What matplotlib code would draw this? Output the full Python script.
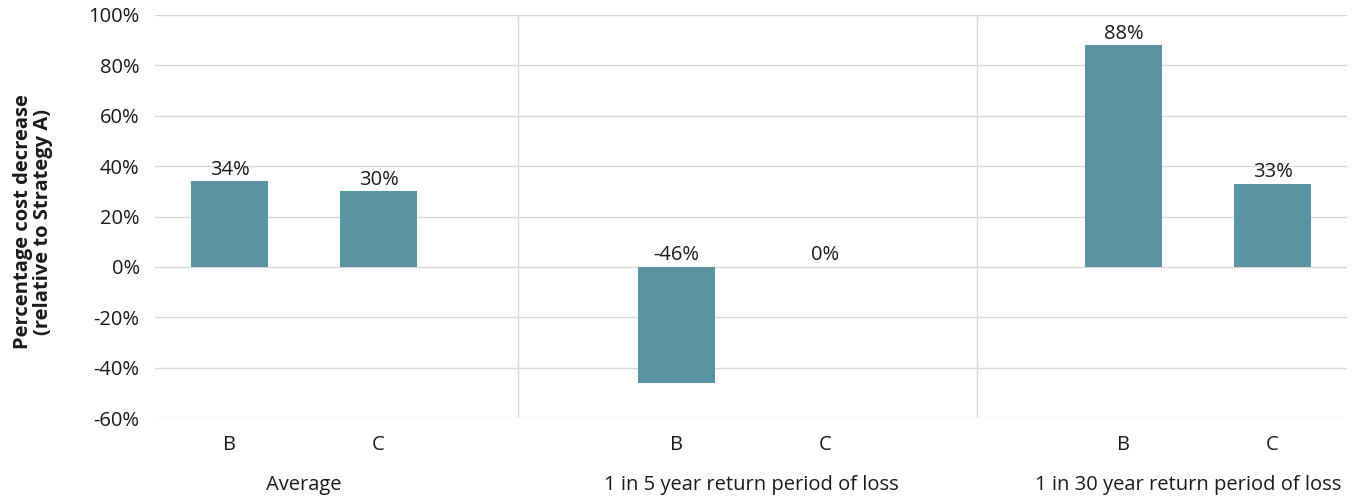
import matplotlib
matplotlib.use("Agg")
import matplotlib.pyplot as plt
import matplotlib.transforms as mtransforms

plt.rcParams["font.family"] = ["Open Sans", "DejaVu Sans"]

# --- Daten ---
groups = ["Average", "1 in 5 year return period of loss", "1 in 30 year return period of loss"]
strategies = ["B", "C"]
values = [
    [34, 30],
    [-46, 0],
    [88, 33],
]
y_ticks = [-60, -40, -20, 0, 20, 40, 60, 80, 100]

BAR_COLOR = "#5a93a2"
GRID_COLOR = "#d9d9d9"
TEXT_COLOR = "#1a1a1a"
FS = 14.5

fig = plt.figure(figsize=(13.64, 4.99), dpi=100)
ax = fig.add_axes([155 / 1364, 1 - 418 / 499, (1347 - 155) / 1364, (418 - 15) / 499])

# Positionen: je Gruppe zwei Slots, dazwischen ein leerer Slot
positions = []
for gi, grp in enumerate(values):
    for si, val in enumerate(grp):
        x = gi * 3 + si
        positions.append(x)
        ax.bar(x, val, width=0.523, color=BAR_COLOR, zorder=3)
        label_y = max(val, 0)
        ax.annotate(f"{val}%", (x, label_y), xytext=(0, 1), textcoords="offset points",
                    ha="center", va="bottom", fontsize=FS, color=TEXT_COLOR, zorder=4)

ax.set_xlim(-0.5, 7.5)
ax.set_ylim(-60, 100)
ax.set_yticks(y_ticks)
ax.set_yticklabels([f"{t}%" for t in y_ticks], fontsize=FS, color=TEXT_COLOR)
ax.tick_params(axis="y", length=0, pad=11)
ax.yaxis.grid(True, color=GRID_COLOR, linewidth=1, zorder=0)
ax.set_axisbelow(True)

ax.set_xticks(positions)
ax.set_xticklabels(strategies * len(groups), fontsize=FS, color=TEXT_COLOR)
ax.tick_params(axis="x", length=0, pad=12)

for spine in ax.spines.values():
    spine.set_visible(False)

# Trennlinien zwischen den Gruppen
for sep in (1.933, 5.02):
    ax.axvline(sep, color=GRID_COLOR, linewidth=1, zorder=1)

# Gruppenbeschriftungen
trans = mtransforms.blended_transform_factory(ax.transData, fig.transFigure)
group_x = [0.5, 3.5, 6.436]
for gx, name in zip(group_x, groups):
    ax.text(gx, 1 - 485 / 499, name, transform=trans, ha="center", va="center",
            fontsize=FS, color=TEXT_COLOR)

fig.text(33 / 1364, 1 - 222 / 499, "Percentage cost decrease\n(relative to Strategy A)",
         rotation=90, ha="center", va="center", fontsize=FS, fontweight="bold",
         color=TEXT_COLOR, linespacing=1.0)

fig.savefig("out.png", dpi=100, facecolor="white")
